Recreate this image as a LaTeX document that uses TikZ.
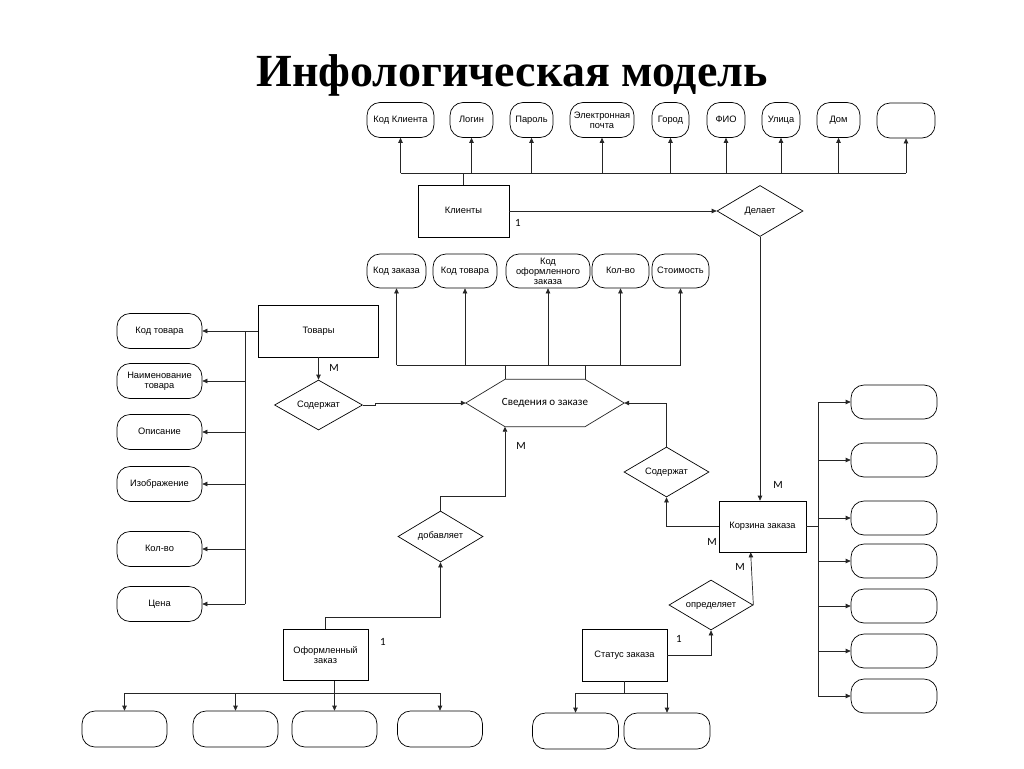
\documentclass[tikz,border=0pt]{standalone}
\usepackage{fontspec}
\setmainfont{Liberation Serif}
\newfontfamily\arial{Liberation Sans}
\newfontfamily\calib{Carlito}
\usetikzlibrary{shapes.geometric,arrows.meta,calc}
\begin{document}
\begin{tikzpicture}[x=1pt,y=-1pt,
 every node/.style={inner sep=0pt, align=center, font=\arial\fontsize{9.3}{10}\selectfont, text height=6.8pt, text depth=1.9pt},
 multi/.style={text height=, text depth=},
 attr/.style={draw, line width=0.7pt, rounded corners=13pt, minimum height=35pt},
 ent/.style={draw, line width=0.7pt, rectangle, minimum height=52pt},
 rel/.style={draw, line width=0.7pt, diamond, aspect=2, minimum width=86pt, minimum height=51pt},
 arr/.style={-{Triangle[length=5pt,width=4.5pt]}},
 lbl/.style={font=\calib\fontsize{11}{12}\selectfont},
 ln/.style={line width=0.7pt, draw=black!85}]
\fill[white] (0,0) rectangle (1024,768);
\useasboundingbox (0,0) rectangle (1024,768);

\node[font=\rmfamily\bfseries\fontsize{46}{52}\selectfont, anchor=base, multi] (title) at (512,86) {Инфологическая модель};

% top attributes
\node[attr, minimum width=67pt] (ka1) at (400.5,120) {Код Клиента};
\node[attr, minimum width=43pt] (ka2) at (471.5,120) {Логин};
\node[attr, minimum width=43pt] (ka3) at (531.5,120) {Пароль};
\node[attr, multi, minimum width=64pt] (ka4) at (602,120) {Электронная\\почта};
\node[attr, minimum width=37pt] (ka5) at (670.5,120) {Город};
\node[attr, minimum width=38pt] (ka6) at (726,120) {ФИО};
\node[attr, minimum width=38pt] (ka7) at (781,120) {Улица};
\node[attr, minimum width=43pt] (ka8) at (838.5,120) {Дом};
\node[attr, minimum width=58pt] (ka9) at (906,120.5) {};

\node[ent, minimum width=91pt] (klient) at (463.5,211) {Клиенты};
\node[rel] (delaet) at (760,211) {Делает};
\coordinate (kbus) at (463.5,173);
\draw[ln] (klient.north) -- (kbus);
\draw[ln] (ka1 |- kbus) -- (ka9 |- kbus);
\foreach \n in {ka1,ka2,ka3,ka4,ka5,ka6,ka7,ka8,ka9}
  \draw[ln,arr] (\n |- kbus) -- (\n.south);
\draw[ln,arr] (klient.east) -- (delaet.west);
\node[lbl] (l1) at (518,224) {1};

% second row attributes
\node[attr, minimum width=59pt, minimum height=34pt] (sa1) at (396.5,271) {Код заказа};
\node[attr, minimum width=64pt, minimum height=34pt] (sa2) at (465,271) {Код товара};
\node[attr, multi, minimum width=84pt, minimum height=34pt] (sa3) at (548,271) {Код\\оформленного\\заказа};
\node[attr, minimum width=57pt, minimum height=34pt] (sa4) at (620.5,271) {Кол-во};
\node[attr, minimum width=57pt, minimum height=34pt] (sa5) at (680.5,271) {Стоимость};

% hexagon
\node[font=\calib\fontsize{11}{12}\selectfont, minimum width=158pt, minimum height=47pt] (hex) at (545,403) {Сведения о заказе};
\coordinate (hnw) at ($(hex.north)+(-40,0)$);
\coordinate (hne) at ($(hex.north)+(40,0)$);
\coordinate (hsw) at ($(hex.south)+(-40,0)$);
\coordinate (hse) at ($(hex.south)+(40,0)$);
\draw[ln] (hex.west) -- (hnw) -- (hne) -- (hex.east) -- (hse) -- (hsw) -- cycle;
\coordinate (sbus) at (545,365);
\draw[ln] (sa1 |- sbus) -- (sa5 |- sbus);
\draw[ln] (hnw) -- (hnw |- sbus);
\draw[ln] (hne) -- (hne |- sbus);
\foreach \n in {sa1,sa2,sa3,sa4,sa5}
  \draw[ln,arr] (\n |- sbus) -- (\n.south);

% Tovary and left attributes
\node[ent, minimum width=120pt] (tovary) at (318.5,331) {Товары};
\node[attr, minimum width=85pt] (la1) at (159.5,331) {Код товара};
\node[attr, multi, minimum width=85pt] (la2) at (159.5,381) {Наименование\\товара};
\node[attr, minimum width=85pt] (la3) at (159.5,432) {Описание};
\node[attr, minimum width=85pt] (la4) at (159.5,484) {Изображение};
\node[attr, minimum width=85pt] (la5) at (159.5,549) {Кол-во};
\node[attr, minimum width=85pt] (la6) at (159.5,604) {Цена};
\coordinate (lbus) at (245,331);
\draw[ln] (tovary.west) -- (lbus) -- (lbus |- la6);
\foreach \n in {la1,la2,la3,la4,la5,la6}
  \draw[ln,arr] (lbus |- \n) -- (\n.east);

\node[rel, minimum width=88pt, minimum height=50pt] (sod1) at (318.5,405) {Содержат};
\draw[ln,arr] (tovary.south) -- (sod1.north);
\node[lbl] (l2) at (334,369) {М};
\draw[ln,arr] (sod1.east) -- ++(12,0) |- (hex.west);

% dobavlyaet / oformlenny
\node[rel, minimum width=85pt] (dob) at (440.5,536.5) {добавляет};
\node[ent, multi, minimum width=85pt, minimum height=51pt] (ofz) at (325.5,655) {Оформленный\\заказ};
\node[lbl] (l3) at (383,643) {1};
\draw[ln,arr] (ofz.north) -- ++(0,-12) -| (dob.south);
\draw[ln,arr] (dob.north) -- ++(0,-14) -| (hsw);
\node[lbl] (l4) at (521,447) {М};

% korzina
\node[ent, minimum width=87pt, minimum height=51pt] (korzina) at (762.5,526.5) {Корзина заказа};
\draw[ln,arr] (delaet.south) -- (delaet.south |- korzina.north);
\node[lbl] (l5) at (778,486) {М};
\node[rel, minimum width=85pt, minimum height=50pt] (sod2) at (666.5,472) {Содержат};
\draw[ln,arr] (korzina.west) -| (sod2.south);
\draw[ln,arr] (sod2.north) |- (hex.east);
\node[lbl] (l6) at (712,543) {М};

\node[rel, minimum width=84pt, minimum height=50pt] (opr) at (711,605) {определяет};
\coordinate (kbot) at ($(korzina.south west)+(32,0)$);
\draw[ln,arr] (opr.east) -- (kbot);
\node[lbl] (l7) at (740,568) {М};
\node[ent, minimum width=85pt] (status) at (624.5,655) {Статус заказа};
\draw[ln,arr] (status.east) -| (opr.south);
\node[lbl] (l8) at (679,640) {1};

% right column
\coordinate (rbus) at (818,526.5);
\foreach \n/\y in {ra1/402,ra2/460,ra3/518,ra4/561,ra5/606,ra6/651,ra7/696}
  \node[attr, minimum width=86pt, minimum height=34pt] (\n) at (894,\y) {};
\draw[ln] (korzina.east) -- (rbus);
\draw[ln] (rbus |- ra1) -- (rbus |- ra7);
\foreach \n in {ra1,ra2,ra3,ra4,ra5,ra6,ra7}
  \draw[ln,arr] (rbus |- \n) -- (\n.west);

% bottom left
\foreach \n/\x in {bl1/124.5,bl2/235.5,bl3/334.5,bl4/440}
  \node[attr, minimum width=85pt, minimum height=36pt] (\n) at (\x,729) {};
\coordinate (obus) at (334.5,693);
\draw[ln,arr] (bl3.north |- ofz.south) -- (bl3.north);
\draw[ln] (bl1 |- obus) -- (bl4 |- obus);
\foreach \n in {bl1,bl2,bl4}
  \draw[ln,arr] (\n |- obus) -- (\n.north);

% bottom right
\foreach \n/\x in {br1/575.5,br2/667}
  \node[attr, minimum width=86pt, minimum height=36pt] (\n) at (\x,731) {};
\coordinate (sbus2) at (624.5,693);
\draw[ln] (status.south) -- (sbus2);
\draw[ln] (br1 |- sbus2) -- (br2 |- sbus2);
\foreach \n in {br1,br2}
  \draw[ln,arr] (\n |- sbus2) -- (\n.north);
\end{tikzpicture}
\end{document}
